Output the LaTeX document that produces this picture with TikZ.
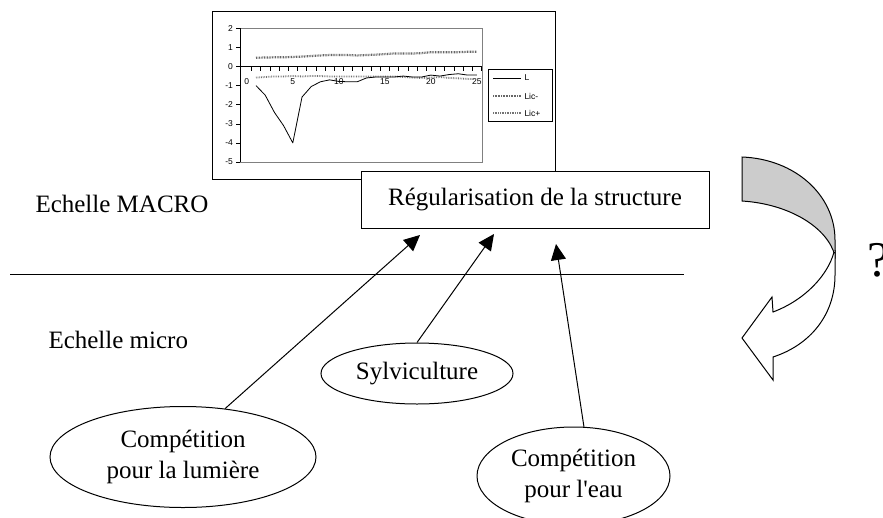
\documentclass[tikz,border=0pt]{standalone}
\usepackage{fontspec}
\setmainfont{Liberation Serif}
\newfontfamily\chartfont{Liberation Sans}
\usetikzlibrary{arrows.meta,shapes.geometric}
\begin{document}
\begin{tikzpicture}[x=1pt,y=-1pt, line width=1pt,
  big/.style={font=\fontsize{25}{30.5}\selectfont},
  ell/.style={draw, ellipse, inner sep=0pt, big, align=center},
  arr/.style={-{Triangle[length=16pt,width=15pt]}, line width=1pt},
  ticklab/.style={font=\chartfont\fontsize{8.5}{9}\selectfont, inner sep=0pt},
  licup/.style={black!60, line width=2.2pt, dash pattern=on 0.8pt off 0.8pt},
  licdn/.style={black!55, line width=1.8pt, dash pattern=on 0.7pt off 1pt},
]
\useasboundingbox (0,0) rectangle (883,517);

% chart frame
\node[draw, minimum width=343pt, minimum height=168pt, inner sep=0pt] (chart) at (383.5,95) {};

\begin{scope}[shift={(246.8,66.5)}, xscale=9.2, yscale=-19.1]
  \draw[black!50, line width=0.5pt] (-0.74,-5) rectangle (25.57,2);
  \draw[line width=0.8pt] (-0.74,-5) -- (-0.74,2);
  \foreach \v in {-5,...,2} {
    \draw[line width=0.6pt] (-0.74,\v) -- ++(-0.4,0);
    \node[ticklab, anchor=east] at (-1.45,\v) {\v};
  }
  \draw[line width=0.8pt] (-0.74,0) -- (25.57,0);
  \foreach \i in {0,...,25} \draw[line width=0.6pt] (\i+0.5,0) -- ++(0,-0.25);
  \foreach \i in {0,5,...,25} \node[ticklab] at (\i,-0.81) {\i};
  \draw[licup] plot coordinates {(1,0.46) (2,0.47) (3,0.48) (4,0.48) (5,0.5) (6,0.52) (7,0.55) (8,0.58) (9,0.6) (10,0.6) (11,0.6) (12,0.58) (13,0.6) (14,0.62) (15,0.65) (16,0.68) (17,0.68) (18,0.68) (19,0.7) (20,0.75) (21,0.75) (22,0.75) (23,0.75) (24,0.77) (25,0.77)};
  \draw[licdn] plot coordinates {(1,-0.58) (2,-0.55) (3,-0.52) (4,-0.52) (5,-0.5) (6,-0.52) (7,-0.5) (8,-0.5) (9,-0.52) (10,-0.52) (11,-0.52) (12,-0.52) (13,-0.52) (14,-0.52) (15,-0.52) (16,-0.52) (17,-0.55) (18,-0.58) (19,-0.6) (20,-0.58) (21,-0.55) (22,-0.6) (23,-0.62) (24,-0.65) (25,-0.65)};
  \draw[line width=0.8pt, line join=round] plot coordinates {(1,-1) (2,-1.5) (3,-2.4) (4,-3.1) (5,-4) (6,-1.6) (7,-1.05) (8,-0.8) (9,-0.7) (10,-0.78) (11,-0.8) (12,-0.8) (13,-0.6) (14,-0.55) (15,-0.55) (16,-0.55) (17,-0.5) (18,-0.55) (19,-0.55) (20,-0.45) (21,-0.5) (22,-0.42) (23,-0.38) (24,-0.45) (25,-0.45)};
\end{scope}

% legend
\node[draw, line width=0.7pt, minimum width=64pt, minimum height=52pt, inner sep=0pt] (leg) at (520,95) {};
\draw[line width=0.8pt] (493,78) -- (521,78);
\draw[licup, line width=1.6pt] (493,96) -- (521,96);
\draw[licdn, line width=1.2pt] (493,113) -- (521,113);
\node[ticklab, anchor=west] (legL) at (524,78) {L};
\node[ticklab, anchor=west] (legm) at (524,96) {Lic-};
\node[ticklab, anchor=west] (legp) at (524,113) {Lic+};

% structure box
\node[draw, fill=white, minimum width=348pt, minimum height=57pt, inner sep=0pt, big] (reg) at (535,199.5) {Régularisation de la structure};

% scale labels and divider
\node[big, anchor=base west, inner sep=0pt] (macro) at (35,212) {Echelle MACRO};
\node[big, anchor=base west, inner sep=0pt] (micro) at (48,348) {Echelle micro};
\draw (10,274) -- (684,274);

% ellipses
\node[ell, minimum width=266pt, minimum height=101pt] (lum) at (183,457) {Compétition\\pour la lumière};
\node[ell, minimum width=192pt, minimum height=61pt] (syl) at (417,373.5) {Sylviculture};
\node[ell, minimum width=193pt, minimum height=98pt] (eau) at (573.5,476) {Compétition\\pour l\textquotesingle eau};

% arrows
\coordinate (t1) at (420,235);
\coordinate (t2) at (494,234);
\coordinate (t3) at (556,244);
\draw[arr] (lum.49) -- (t1);
\draw[arr] (syl.north) -- (t2);
\draw[arr] (eau.78) -- (t3);

% curved arrow
\draw[fill=black!20] (742,157) .. controls (795,159) and (835,195) .. (835,240) -- (835,256) .. controls (828,228) and (790,204) .. (742,201) -- cycle;
\draw[fill=white, line join=miter] (834,252) .. controls (828,275) and (805,300) .. (773,312) -- (772,297) -- (742,338) -- (773,380) -- (773,357) .. controls (810,345) and (835,315) .. (835,275) -- (835,250);
\node[font=\fontsize{50}{52}\selectfont, anchor=west, inner sep=0pt] (q) at (867,260.5) {?};
\end{tikzpicture}
\end{document}
